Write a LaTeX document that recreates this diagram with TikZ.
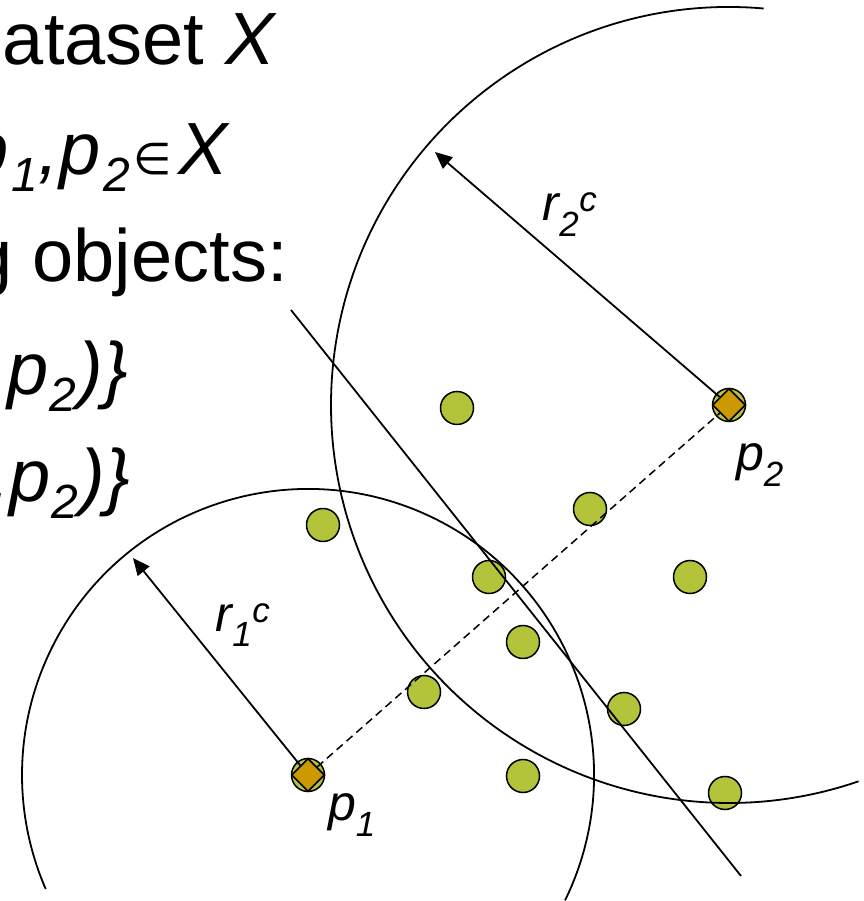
\documentclass[tikz,border=0pt]{standalone}
\usepackage{fontspec}
\setmainfont{Liberation Sans}
\newfontfamily\symfont{DejaVu Sans}
\usetikzlibrary{positioning,arrows.meta,shapes.geometric}
\definecolor{olivedot}{HTML}{B3C43B}
\definecolor{ochre}{HTML}{CC9900}
\newcommand{\sbs}[1]{\raisebox{-17pt}{\fontsize{48}{50}\selectfont\itshape #1}}

\begin{document}
\begin{tikzpicture}[x=1pt, y=1pt,
        dot/.style={circle, draw, line width=1.5pt, fill=olivedot, minimum size=33pt, inner sep=0pt},
        pivot/.style={diamond, draw, line width=1.5pt, fill=ochre, minimum width=33pt, minimum height=33pt, inner sep=0pt},
        ring/.style={line width=1.8pt},
        radius arrow/.style={line width=1.8pt, -{Triangle[length=17pt,width=15pt]}},
        lbl/.style={font=\fontsize{50}{60}\selectfont\itshape, inner sep=0pt},
        txt/.style={font=\fontsize{74}{110}\selectfont, anchor=base east, inner sep=0pt}]
        \useasboundingbox (0,0) rectangle (863,901);
        \clip (0,0) rectangle (863,901);

        % slide text, cut at the left edge
        \node[txt] (line1) at (277,836) {ataset \textit{X}};
        \node[txt] (line2) at (230,726) {\textit{p}\kern2pt\sbs{1}\kern1pt\textit{,p}\kern3pt\sbs{2}\kern6pt\makebox[34pt]{\symfont\fontsize{44}{46}\selectfont ∈}\kern8pt\textit{X}};
        \node[txt] (line3) at (288,619) {g objects:};
        \node[txt] (line4) at (128,506) {\textit{,p}\kern1pt\sbs{2}\kern2pt\textit{)\}}};
        \node[txt] (line5) at (130,399) {\textit{,p}\kern1pt\sbs{2}\kern2pt\textit{)\}}};

        % data points
        \foreach \x/\y [count=\i] in {457/493, 590/392, 323/376, 489/324, 690/324,
                                      523/259, 424/209, 624/192, 523/125, 725/108} {
            \node[dot] (d\i) at (\x,\y) {};
        }
        \node[dot] (dp1) at (308,126) {};
        \node[dot] (dp2) at (729,496) {};

        % the two pivots
        \node[pivot] (p1) at (308,126) {};
        \node[pivot] (p2) at (729,496) {};

        % covering radii
        \draw[ring] (p2.center) ++(85:398) arc[start angle=85, end angle=289, radius=398];
        \draw[ring] (p1.center) ++(-26:286) arc[start angle=-26, end angle=203.5, radius=286];
        \coordinate (tip1) at (133,343);
        \coordinate (tip2) at (435,749);
        \draw[radius arrow] (p1) -- (tip1);
        \draw[radius arrow] (p2) -- (tip2);

        % hyperplane and link
        \coordinate (cut top) at (291,591);
        \coordinate (cut bot) at (741,25);
        \draw[ring] (cut top) -- (cut bot);
        \draw[line width=1.5pt, dash pattern=on 8pt off 5pt] (p1) -- (p2);
        \node[pivot] at (p1) {};
        \node[pivot] at (p2) {};

        % labels
        \node[lbl] (r2lab) at (570,686) {r\textsubscript{2}\textsuperscript{c}};
        \node[lbl] (r1lab) at (243,276) {r\textsubscript{1}\textsuperscript{c}};
        \node[lbl] (p2lab) at (760,436) {p\textsubscript{2}};
        \node[lbl] (p1lab) at (352,86) {p\textsubscript{1}};
    \end{tikzpicture}
\end{document}
